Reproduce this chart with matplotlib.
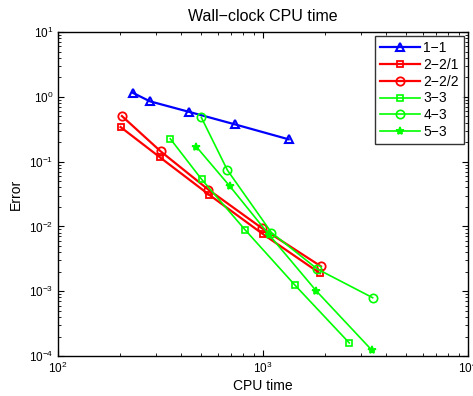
import matplotlib.pyplot as plt

plt.rcParams['font.family'] = ['Liberation Sans', 'DejaVu Sans']
plt.rcParams['mathtext.fontset'] = 'custom'
plt.rcParams['mathtext.rm'] = 'Liberation Sans'
plt.rcParams['mathtext.it'] = 'Liberation Sans:italic'

MINUS = '\u2212'

# CPU time / error per scheme
t_11 = [231, 281, 434, 730, 1335]
e_11 = [1.16, 0.853, 0.589, 0.376, 0.221]

t_221 = [202, 315, 545, 1000, 1897]
e_221 = [0.342, 0.116, 0.031, 0.0076, 0.00189]

t_222 = [205, 317, 541, 988, 1918]
e_222 = [0.506, 0.144, 0.0371, 0.0094, 0.00242]

t_33 = [353, 502, 817, 1429, 2636]
e_33 = [0.2256, 0.0533, 0.0089, 0.00125, 0.000159]

t_43 = [500, 671, 1099, 1841, 3427]
e_43 = [0.483, 0.0736, 0.00805, 0.0022, 0.000794]

t_53 = [473, 690, 1074, 1820, 3388]
e_53 = [0.170, 0.0416, 0.00736, 0.00101, 0.000124]

fig = plt.figure(figsize=(4.73, 3.96), dpi=100)
ax = fig.add_axes([0.1226, 0.101, 0.8668, 0.818])

ax.loglog(t_11, e_11, '-^', color='#0000ff', lw=1.6, ms=6, mfc='none', mew=1.5, label='1' + MINUS + '1')
ax.loglog(t_221, e_221, '-s', color='#ff0000', lw=1.6, ms=5, mfc='none', mew=1.3, label='2' + MINUS + '2/1')
ax.loglog(t_222, e_222, '-o', color='#ff0000', lw=1.6, ms=6, mfc='none', mew=1.3, label='2' + MINUS + '2/2')
ax.loglog(t_33, e_33, '-s', color='#00ff00', lw=1.2, ms=5, mfc='none', mew=1.2, label='3' + MINUS + '3')
ax.loglog(t_43, e_43, '-o', color='#00ff00', lw=1.2, ms=6, mfc='none', mew=1.2, label='4' + MINUS + '3')
ax.loglog(t_53, e_53, '-*', color='#00ff00', lw=1.2, ms=6, mew=1.2, label='5' + MINUS + '3')

ax.set_xlim(100, 10000)
ax.set_ylim(1e-4, 10)
ax.tick_params(which='both', direction='in', top=True, right=True, labelsize=8.5)
ax.tick_params(which='major', length=4)
ax.tick_params(which='minor', length=2)
for s in ax.spines.values():
    s.set_linewidth(1.0)

ax.set_xlabel('CPU time', fontsize=10, labelpad=2)
ax.set_ylabel('Error', fontsize=10)
ax.set_title('Wall' + MINUS + 'clock CPU time', fontsize=11.5, pad=8)

leg = ax.legend(loc='upper right', fontsize=10, fancybox=False, edgecolor='black',
                handlelength=2.9, borderaxespad=0.3, labelspacing=0.2, handletextpad=0.25,
                borderpad=0.35)
leg.get_frame().set_linewidth(1.0)

fig.savefig('out.png', dpi=100)
